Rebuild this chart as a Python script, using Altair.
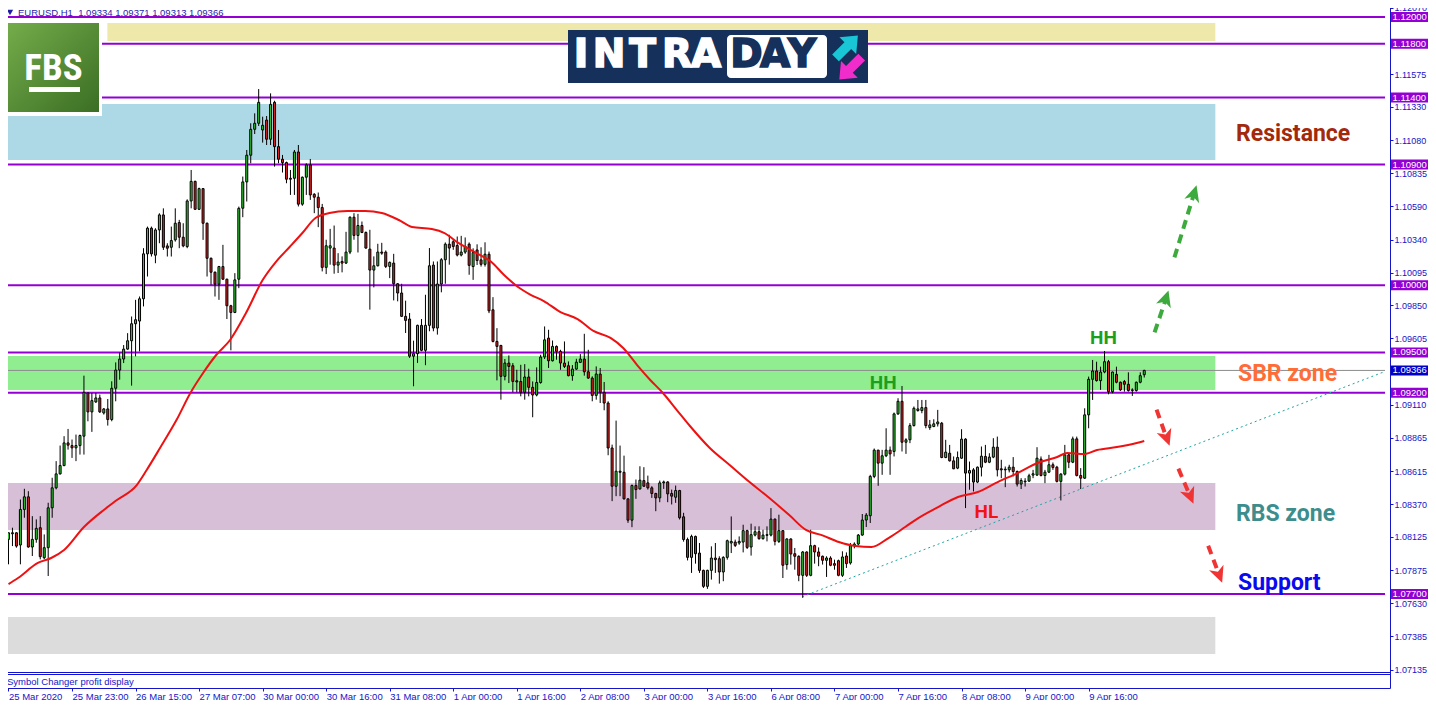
import json
import pandas as pd
import altair as alt

# ---------------- data ----------------
x_labels = ["25 Mar 2020", "25 Mar 23:00", "26 Mar 15:00", "27 Mar 07:00", "30 Mar 00:00",
            "30 Mar 16:00", "31 Mar 08:00", "1 Apr 00:00", "1 Apr 16:00", "2 Apr 08:00",
            "3 Apr 00:00", "3 Apr 16:00", "6 Apr 08:00", "7 Apr 00:00", "7 Apr 16:00",
            "8 Apr 08:00", "9 Apr 00:00", "9 Apr 16:00"]

opens = [
    1.08107, 1.08149, 1.08156, 1.08065, 1.08330, 1.08424, 1.08050, 1.08107, 1.08194, 1.07970,
    1.08045, 1.08342, 1.08491, 1.08595, 1.08657, 1.08826, 1.08806, 1.08789, 1.08806, 1.08876,
    1.09198, 1.09057, 1.09131, 1.09161, 1.09049, 1.09079, 1.09000, 1.09233, 1.09369, 1.09451,
    1.09525, 1.09587, 1.09714, 1.09734, 1.09900, 1.10235, 1.10426, 1.10225, 1.10413, 1.10525,
    1.10294, 1.10284, 1.10339, 1.10468, 1.10359, 1.10289, 1.10629, 1.10775, 1.10567, 1.10721,
    1.10463, 1.10202, 1.10098, 1.10009, 1.10140, 1.10046, 1.09848, 1.09798, 1.10046, 1.10575,
    1.10771, 1.10970, 1.11163, 1.11208, 1.11158, 1.11232, 1.11089, 1.11364, 1.11034, 1.10940,
    1.10915, 1.10798, 1.10798, 1.10994, 1.10605, 1.10806, 1.10898, 1.10679, 1.10657, 1.10580,
    1.10134, 1.10278, 1.10278, 1.10151, 1.10178, 1.10166, 1.10248, 1.10508, 1.10372, 1.10446,
    1.10394, 1.10270, 1.10114, 1.10146, 1.10248, 1.10248, 1.10141, 1.10166, 1.10012, 1.09943,
    1.09769, 1.09749, 1.09472, 1.09491, 1.09702, 1.09516, 1.09702, 1.10151, 1.09682, 1.10010,
    1.10191, 1.10307, 1.10325, 1.10297, 1.10226, 1.10248, 1.10307, 1.10140, 1.10264, 1.10190,
    1.10157, 1.10232, 1.09818, 1.09582, 1.09552, 1.09322, 1.09421, 1.09401, 1.09289, 1.09284,
    1.09203, 1.09317, 1.09240, 1.09183, 1.09276, 1.09466, 1.09607, 1.09438, 1.09545, 1.09508,
    1.09421, 1.09401, 1.09327, 1.09376, 1.09426, 1.09451, 1.09356, 1.09309, 1.09180, 1.09339,
    1.09203, 1.09123, 1.08788, 1.08503, 1.08615, 1.08607, 1.08409, 1.08250, 1.08508, 1.08483,
    1.08545, 1.08528, 1.08491, 1.08449, 1.08416, 1.08528, 1.08535, 1.08449, 1.08421, 1.08471,
    1.08275, 1.08106, 1.07973, 1.08129, 1.08005, 1.07876, 1.07757, 1.07876, 1.07968, 1.07963,
    1.07864, 1.07973, 1.08080, 1.08087, 1.08080, 1.08087, 1.08172, 1.08050, 1.08139, 1.08164,
    1.08112, 1.08137, 1.08139, 1.08258, 1.08092, 1.08172, 1.07919, 1.08110, 1.08000, 1.07981,
    1.07839, 1.08013, 1.07839, 1.08060, 1.08013, 1.07981, 1.07951, 1.07968, 1.07926, 1.07948,
    1.07839, 1.07983, 1.07931, 1.08060, 1.08072, 1.08139, 1.08251, 1.08283, 1.08576, 1.08772,
    1.08675, 1.08730, 1.08772, 1.08762, 1.09042, 1.09136, 1.08831, 1.08849, 1.08955, 1.09067,
    1.09067, 1.09089, 1.08940, 1.08948, 1.08968, 1.08973, 1.08717, 1.08749, 1.08692, 1.08638,
    1.08712, 1.08854, 1.08601, 1.08625, 1.08534, 1.08645, 1.08725, 1.08682, 1.08720, 1.08794,
    1.08633, 1.08630, 1.08625, 1.08645, 1.08613, 1.08519, 1.08536, 1.08541, 1.08586, 1.08586,
    1.08705, 1.08583, 1.08608, 1.08663, 1.08645, 1.08539, 1.08593, 1.08737, 1.08682, 1.08856,
    1.08583, 1.08563, 1.09035, 1.09300, 1.09362, 1.09290, 1.09354, 1.09431, 1.09208, 1.09337,
    1.09278, 1.09283, 1.09263, 1.09216, 1.09216, 1.09278, 1.09334]

highs = [
    1.08156, 1.08194, 1.08160, 1.08404, 1.08484, 1.08466, 1.08280, 1.08256, 1.08280, 1.08144,
    1.08380, 1.08566, 1.08690, 1.08806, 1.08876, 1.08930, 1.08851, 1.08888, 1.08888, 1.09327,
    1.09203, 1.09198, 1.09198, 1.09186, 1.09086, 1.09153, 1.09285, 1.09426, 1.09501, 1.09555,
    1.09644, 1.09768, 1.09892, 1.09917, 1.10277, 1.10438, 1.10438, 1.10426, 1.10537, 1.10574,
    1.10314, 1.10438, 1.10574, 1.10488, 1.10463, 1.10641, 1.10860, 1.10780, 1.10728, 1.10725,
    1.10468, 1.10207, 1.10103, 1.10145, 1.10302, 1.10050, 1.09855, 1.10091, 1.10587, 1.10811,
    1.11009, 1.11208, 1.11282, 1.11463, 1.11257, 1.11262, 1.11431, 1.11376, 1.11158, 1.10972,
    1.10922, 1.10860, 1.11009, 1.11046, 1.10811, 1.10910, 1.10942, 1.10687, 1.10692, 1.10607,
    1.10340, 1.10421, 1.10446, 1.10240, 1.10216, 1.10399, 1.10513, 1.10538, 1.10533, 1.10476,
    1.10402, 1.10414, 1.10216, 1.10310, 1.10317, 1.10260, 1.10178, 1.10235, 1.10017, 1.10012,
    1.09886, 1.09794, 1.09588, 1.09707, 1.09749, 1.09930, 1.10278, 1.10178, 1.10178, 1.10203,
    1.10320, 1.10377, 1.10340, 1.10364, 1.10369, 1.10357, 1.10320, 1.10276, 1.10306, 1.10284,
    1.10321, 1.10252, 1.09912, 1.09681, 1.09557, 1.09451, 1.09478, 1.09421, 1.09371, 1.09408,
    1.09413, 1.09379, 1.09284, 1.09389, 1.09483, 1.09694, 1.09669, 1.09589, 1.09552, 1.09520,
    1.09582, 1.09433, 1.09406, 1.09453, 1.09488, 1.09639, 1.09520, 1.09322, 1.09396, 1.09384,
    1.09280, 1.09136, 1.08813, 1.08992, 1.08806, 1.08731, 1.08412, 1.08516, 1.08553, 1.08652,
    1.08645, 1.08582, 1.08503, 1.08454, 1.08545, 1.08545, 1.08540, 1.08478, 1.08508, 1.08476,
    1.08305, 1.08120, 1.08142, 1.08135, 1.08080, 1.07881, 1.07881, 1.08055, 1.08080, 1.07981,
    1.07981, 1.08105, 1.08278, 1.08105, 1.08129, 1.08216, 1.08179, 1.08224, 1.08204, 1.08204,
    1.08179, 1.08204, 1.08340, 1.08262, 1.08291, 1.08176, 1.08115, 1.08115, 1.08043, 1.07988,
    1.08020, 1.08018, 1.08179, 1.08067, 1.08047, 1.07986, 1.07981, 1.07981, 1.07956, 1.07956,
    1.08018, 1.08010, 1.08080, 1.08085, 1.08147, 1.08296, 1.08303, 1.08588, 1.08784, 1.08774,
    1.08774, 1.08935, 1.08799, 1.09052, 1.09159, 1.09250, 1.08861, 1.08973, 1.09097, 1.09146,
    1.09146, 1.09146, 1.08997, 1.09002, 1.09072, 1.08982, 1.08849, 1.08811, 1.08725, 1.08762,
    1.08928, 1.08861, 1.08687, 1.08638, 1.08650, 1.08799, 1.08811, 1.08749, 1.08861, 1.08873,
    1.08700, 1.08650, 1.08663, 1.08720, 1.08620, 1.08563, 1.08563, 1.08596, 1.08625, 1.08794,
    1.08725, 1.08625, 1.08737, 1.08680, 1.08655, 1.08601, 1.08811, 1.08744, 1.08873, 1.08873,
    1.08638, 1.09084, 1.09320, 1.09444, 1.09431, 1.09394, 1.09511, 1.09444, 1.09357, 1.09394,
    1.09283, 1.09295, 1.09352, 1.09233, 1.09283, 1.09352, 1.09371]

lows = [
    1.07921, 1.08057, 1.08045, 1.07921, 1.08268, 1.08045, 1.07983, 1.08082, 1.07958, 1.07958,
    1.07834, 1.08268, 1.08480, 1.08590, 1.08652, 1.08776, 1.08714, 1.08690, 1.08739, 1.08739,
    1.08987, 1.08908, 1.09124, 1.09049, 1.09037, 1.08955, 1.08987, 1.09136, 1.09297, 1.09421,
    1.09520, 1.09253, 1.09471, 1.09508, 1.09843, 1.10066, 1.10215, 1.10165, 1.10314, 1.10264,
    1.10215, 1.10215, 1.10326, 1.10277, 1.10284, 1.10277, 1.10574, 1.10562, 1.10562, 1.10339,
    1.10066, 1.10004, 1.09917, 1.09892, 1.10041, 1.09749, 1.09516, 1.09793, 1.09979, 1.10508,
    1.10625, 1.10910, 1.11128, 1.11188, 1.11064, 1.11046, 1.11046, 1.10885, 1.10910, 1.10841,
    1.10761, 1.10674, 1.10674, 1.10588, 1.10593, 1.10674, 1.10637, 1.10538, 1.10434, 1.10104,
    1.10084, 1.10154, 1.10087, 1.10092, 1.10097, 1.10159, 1.10233, 1.10340, 1.10245, 1.10389,
    1.10273, 1.09819, 1.09985, 1.10141, 1.10228, 1.10129, 1.10054, 1.09888, 1.09881, 1.09764,
    1.09645, 1.09459, 1.09248, 1.09422, 1.09509, 1.09405, 1.09658, 1.09658, 1.09633, 1.09948,
    1.10012, 1.10154, 1.10265, 1.10216, 1.10216, 1.10235, 1.10079, 1.10041, 1.10152, 1.10140,
    1.10140, 1.09793, 1.09575, 1.09292, 1.09148, 1.09292, 1.09272, 1.09203, 1.09203, 1.09173,
    1.09148, 1.09173, 1.09017, 1.09173, 1.09267, 1.09451, 1.09384, 1.09433, 1.09446, 1.09371,
    1.09384, 1.09322, 1.09289, 1.09371, 1.09421, 1.09327, 1.09304, 1.09136, 1.09148, 1.09123,
    1.09069, 1.08734, 1.08392, 1.08429, 1.08429, 1.08404, 1.08230, 1.08198, 1.08409, 1.08478,
    1.08498, 1.08478, 1.08416, 1.08317, 1.08384, 1.08483, 1.08384, 1.08367, 1.08379, 1.08255,
    1.08090, 1.07950, 1.07857, 1.07926, 1.07857, 1.07745, 1.07738, 1.07807, 1.07857, 1.07777,
    1.07795, 1.07956, 1.08005, 1.08050, 1.08067, 1.08010, 1.08035, 1.07986, 1.08129, 1.08105,
    1.08105, 1.08092, 1.08129, 1.08062, 1.08080, 1.07819, 1.07881, 1.07919, 1.07881, 1.07795,
    1.07671, 1.07827, 1.07832, 1.07926, 1.07907, 1.07919, 1.07827, 1.07907, 1.07881, 1.07832,
    1.07827, 1.07894, 1.07919, 1.08040, 1.08062, 1.08134, 1.08199, 1.08229, 1.08563, 1.08506,
    1.08588, 1.08720, 1.08588, 1.08725, 1.09035, 1.08762, 1.08744, 1.08824, 1.08948, 1.09059,
    1.09047, 1.08935, 1.08923, 1.08943, 1.08948, 1.08712, 1.08712, 1.08687, 1.08630, 1.08630,
    1.08707, 1.08340, 1.08477, 1.08464, 1.08526, 1.08576, 1.08675, 1.08675, 1.08712, 1.08576,
    1.08563, 1.08496, 1.08606, 1.08576, 1.08501, 1.08482, 1.08501, 1.08536, 1.08563, 1.08581,
    1.08576, 1.08526, 1.08601, 1.08625, 1.08531, 1.08397, 1.08583, 1.08638, 1.08675, 1.08576,
    1.08482, 1.08558, 1.08935, 1.09146, 1.09283, 1.09221, 1.09345, 1.09188, 1.09196, 1.09270,
    1.09213, 1.09208, 1.09208, 1.09176, 1.09208, 1.09270, 1.09313]

closes = [
    1.08156, 1.08156, 1.08057, 1.08330, 1.08424, 1.08050, 1.08107, 1.08189, 1.07978, 1.08045,
    1.08342, 1.08491, 1.08595, 1.08657, 1.08826, 1.08809, 1.08789, 1.08806, 1.08881, 1.09203,
    1.09057, 1.09141, 1.09161, 1.09057, 1.09079, 1.09000, 1.09233, 1.09369, 1.09451, 1.09525,
    1.09587, 1.09714, 1.09744, 1.09900, 1.10235, 1.10426, 1.10235, 1.10413, 1.10525, 1.10284,
    1.10277, 1.10334, 1.10463, 1.10359, 1.10294, 1.10629, 1.10775, 1.10567, 1.10721, 1.10463,
    1.10202, 1.10098, 1.10009, 1.10140, 1.10046, 1.09848, 1.09798, 1.10041, 1.10574, 1.10771,
    1.10970, 1.11163, 1.11208, 1.11364, 1.11193, 1.11089, 1.11349, 1.11034, 1.10940, 1.10915,
    1.10791, 1.10791, 1.10994, 1.10605, 1.10806, 1.10898, 1.10674, 1.10657, 1.10580, 1.10134,
    1.10295, 1.10295, 1.10151, 1.10174, 1.10166, 1.10248, 1.10508, 1.10372, 1.10446, 1.10394,
    1.10278, 1.10114, 1.10146, 1.10248, 1.10240, 1.10141, 1.10171, 1.10012, 1.09943, 1.09769,
    1.09739, 1.09472, 1.09491, 1.09702, 1.09516, 1.09702, 1.10146, 1.09682, 1.10010, 1.10191,
    1.10307, 1.10278, 1.10290, 1.10226, 1.10248, 1.10290, 1.10149, 1.10244, 1.10185, 1.10157,
    1.10232, 1.09810, 1.09582, 1.09545, 1.09322, 1.09421, 1.09396, 1.09284, 1.09280, 1.09203,
    1.09317, 1.09240, 1.09183, 1.09276, 1.09466, 1.09594, 1.09438, 1.09545, 1.09508, 1.09421,
    1.09396, 1.09327, 1.09376, 1.09428, 1.09451, 1.09356, 1.09309, 1.09180, 1.09339, 1.09203,
    1.09123, 1.08788, 1.08503, 1.08615, 1.08607, 1.08409, 1.08250, 1.08508, 1.08478, 1.08548,
    1.08503, 1.08491, 1.08449, 1.08416, 1.08528, 1.08535, 1.08446, 1.08429, 1.08471, 1.08268,
    1.08106, 1.07973, 1.08129, 1.08000, 1.07876, 1.07757, 1.07876, 1.07968, 1.07956, 1.07864,
    1.07973, 1.08097, 1.08092, 1.08062, 1.08092, 1.08172, 1.08047, 1.08142, 1.08164, 1.08112,
    1.08139, 1.08142, 1.08258, 1.08092, 1.08172, 1.07914, 1.08110, 1.07998, 1.07981, 1.07839,
    1.08013, 1.07839, 1.08060, 1.08013, 1.07981, 1.07951, 1.07968, 1.07914, 1.07914, 1.07839,
    1.07976, 1.07926, 1.08060, 1.08072, 1.08139, 1.08251, 1.08288, 1.08576, 1.08772, 1.08675,
    1.08730, 1.08772, 1.08744, 1.09042, 1.09136, 1.08831, 1.08849, 1.08955, 1.09084, 1.09079,
    1.09089, 1.08955, 1.08960, 1.08968, 1.08982, 1.08717, 1.08757, 1.08692, 1.08633, 1.08717,
    1.08854, 1.08601, 1.08620, 1.08534, 1.08645, 1.08727, 1.08682, 1.08720, 1.08794, 1.08625,
    1.08625, 1.08625, 1.08645, 1.08613, 1.08519, 1.08546, 1.08541, 1.08581, 1.08596, 1.08712,
    1.08583, 1.08608, 1.08663, 1.08643, 1.08539, 1.08593, 1.08737, 1.08682, 1.08856, 1.08583,
    1.08563, 1.09035, 1.09300, 1.09362, 1.09290, 1.09354, 1.09431, 1.09208, 1.09354, 1.09278,
    1.09221, 1.09263, 1.09216, 1.09221, 1.09278, 1.09327, 1.09366]

# moving average (bar index, price)
ma_idx = [0, 2.4, 7.4, 10.75, 14, 19, 24, 27.3, 32.3, 34.8, 38.3, 42.3, 45.8, 49, 52.3,
          55.8, 59.8, 64, 67.3, 70.8, 74, 77.3, 80.8, 85.3, 89.8, 94, 98.3, 101.6, 106.6,
          109.8, 113.3, 117.3, 121.6, 124.8, 128.3, 131.6, 134.8, 139, 143.3, 147.3, 151.6,
          154.8, 158.3, 161.6, 164.8, 168.3, 171.6, 176.6, 181.6, 186.6, 191.6, 196.6, 200.8,
          204.8, 209.1, 213.3, 217.3, 221.6, 225.8, 229.1, 234.1, 239.1, 244.1, 249.1, 254.1,
          259.1, 264.1, 266.6, 270.8, 274.1, 279.1, 284.1, 286]
ma_val = [1.07774, 1.07819, 1.07931, 1.07968, 1.08028, 1.08199, 1.08326, 1.08400, 1.08512,
          1.08624, 1.08795, 1.08996, 1.09198, 1.09347, 1.09481, 1.09593, 1.09794, 1.10040,
          1.10174, 1.10286, 1.10390, 1.10502, 1.10539, 1.10554, 1.10554, 1.10539, 1.10487,
          1.10435, 1.10420, 1.10390, 1.10316, 1.10249, 1.10174, 1.10077, 1.09988, 1.09928,
          1.09883, 1.09801, 1.09749, 1.09660, 1.09608, 1.09533, 1.09406, 1.09295, 1.09198,
          1.09071, 1.08952, 1.08788, 1.08661, 1.08534, 1.08415, 1.08288, 1.08177, 1.08139,
          1.08087, 1.08057, 1.08050, 1.08117, 1.08199, 1.08266, 1.08348, 1.08423, 1.08460,
          1.08534, 1.08601, 1.08676, 1.08721, 1.08751, 1.08743, 1.08773, 1.08795, 1.08825,
          1.08840]

y_ticks = [1.12070, 1.11575, 1.11330, 1.11080, 1.10835, 1.10590, 1.10340, 1.10095, 1.09850,
           1.09605, 1.09110, 1.08865, 1.08615, 1.08370, 1.08125, 1.07875, 1.07630, 1.07385,
           1.07135]

level_prices = [1.12000, 1.11800, 1.11400, 1.10900, 1.10000, 1.09500, 1.09200, 1.07700]
last_price = 1.09366

zone_x0 = [24.9, -0.375, -0.375, -0.375, -0.375]
zone_x1 = [303.9, 303.9, 303.9, 303.9, 303.9]
zone_lo = [1.11821, 1.10934, 1.09220, 1.08177, 1.07252]
zone_hi = [1.11955, 1.11352, 1.09473, 1.08527, 1.07528]
zone_col = ["#EEE8AA", "#ADD8E6", "#90EE90", "#D8BFD8", "#DCDCDC"]

trend_idx = [199.9, 346.6]
trend_price = [1.07680, 1.09358]

zone_text = ["Resistance", "SBR zone", "RBS zone", "Support"]
zone_text_idx = [309.1, 309.6, 309.1, 309.6]
zone_text_price = [1.11125, 1.09343, 1.08298, 1.07784]
zone_text_col = ["#A3290C", "#FF6C37", "#3D8D8D", "#0A0AEE"]

swing_text = ["HH", "HH", "HL"]
swing_idx = [220.25, 275.75, 246.25]
swing_price = [1.09276, 1.09604, 1.08314]
swing_col = ["#1E9E1E", "#1E9E1E", "#F01414"]

arr_x0 = [288.6, 293.6, 289.1, 294.6, 302.1]
arr_y0 = [1.09649, 1.10208, 1.09074, 1.08634, 1.08060]
arr_x1 = [291.4, 298.4, 291.5, 297.4, 304.75]
arr_y1 = [1.09895, 1.10670, 1.08873, 1.08440, 1.07851]
head_x = [291.4, 298.5, 291.6, 297.5, 304.8]
head_y = [1.09898, 1.10681, 1.08869, 1.08435, 1.07847]
head_ang = [18, 17, 160, 157, 159]
arr_col = ["#3DAA3D", "#3DAA3D", "#F03434", "#F03434", "#F03434"]

# ---------------- frames ----------------
W, H = 1388, 686
XDOM = [-0.375, 346.625]
YDOM = [1.069993, 1.121118]
PX = (YDOM[1] - YDOM[0]) / H          # price per pixel
xsc = alt.Scale(domain=XDOM, nice=False, zero=False)
ysc = alt.Scale(domain=YDOM, nice=False, zero=False)

FONT = "Liberation Sans"
AXBLUE = "#1515C8"
GREEN = "#33CC33"
RED = "#DD2222"
NAVY = "#15305A"

candles = pd.DataFrame({"i": list(range(len(closes))), "open": opens, "high": highs,
                        "low": lows, "close": closes})
candles["dir"] = ["up" if c >= o else "down" for o, c in zip(opens, closes)]

ma_df = pd.DataFrame({"i": ma_idx, "ma": ma_val})
zones = pd.DataFrame({"x0": zone_x0, "x1": zone_x1, "lo": zone_lo, "hi": zone_hi, "col": zone_col})
levels = pd.DataFrame({"p": level_prices, "x0": XDOM[0], "x1": XDOM[1],
                       "label": [f"{p:.5f}" for p in level_prices]})
levels["lo"] = levels["p"] - 5 * PX
levels["hi"] = levels["p"] + 5 * PX
lastdf = pd.DataFrame({"p": [last_price], "x0": XDOM[0], "x1": XDOM[1],
                       "label": [f"{last_price:.5f}"]})
lastdf["lo"] = lastdf["p"] - 5 * PX
lastdf["hi"] = lastdf["p"] + 5 * PX
trend = pd.DataFrame({"x0": [trend_idx[0]], "x1": [trend_idx[1]],
                      "y0": [trend_price[0]], "y1": [trend_price[1]]})
ztext = pd.DataFrame({"t": zone_text, "i": zone_text_idx, "p": zone_text_price, "col": zone_text_col})
stext = pd.DataFrame({"t": swing_text, "i": swing_idx, "p": swing_price, "col": swing_col})
arrows = pd.DataFrame({"x0": arr_x0, "y0": arr_y0, "x1": arr_x1, "y1": arr_y1, "col": arr_col})
heads = pd.DataFrame({"x": head_x, "y": head_y, "ang": head_ang, "col": arr_col})
one = pd.DataFrame({"k": [0]})

x_axis = alt.Axis(values=[16 * k for k in range(len(x_labels))],
                  labelExpr=json.dumps(x_labels) + "[round(datum.value / 16)]",
                  labelAlign="left", labelBaseline="top", labelPadding=0,
                  labelFont=FONT, labelFontSize=9.5, labelColor=AXBLUE,
                  tickColor=AXBLUE, tickSize=3, domainColor=AXBLUE,
                  grid=False, labelOverlap=False, labelFlush=False)
y_axis = alt.Axis(orient="right", values=y_ticks, format=".5f",
                  labelFont=FONT, labelFontSize=9, labelColor=AXBLUE, labelPadding=1,
                  tickColor=AXBLUE, tickSize=3, domainColor=AXBLUE,
                  grid=False, labelOverlap=False, labelFlush=False)


def X(f):
    return alt.X(f, type="quantitative", scale=xsc, axis=x_axis, title=None)


def Y(f):
    return alt.Y(f, type="quantitative", scale=ysc, axis=y_axis, title=None)


layers = []

# zones
layers.append(alt.Chart(zones).mark_rect().encode(
    x=X("x0:Q"), x2="x1:Q", y=Y("lo:Q"), y2="hi:Q", color=alt.Color("col:N", scale=None)))
# level lines
layers.append(alt.Chart(levels).mark_rule(color="#9400D3", strokeWidth=2).encode(
    x=X("x0:Q"), x2="x1:Q", y=Y("p:Q")))
# last price line
layers.append(alt.Chart(lastdf).mark_rule(color="#8C8C8C", strokeWidth=1).encode(
    x=X("x0:Q"), x2="x1:Q", y=Y("p:Q")))
# trend line
layers.append(alt.Chart(trend).mark_rule(color="#22A3A3", strokeWidth=1, strokeDash=[2, 3]).encode(
    x=X("x0:Q"), x2="x1:Q", y=Y("y0:Q"), y2="y1:Q"))
# wicks
layers.append(alt.Chart(candles).mark_rule(color="black", strokeWidth=1).encode(
    x=X("i:Q"), y=Y("low:Q"), y2="high:Q"))
# bodies
layers.append(alt.Chart(candles).mark_bar(size=2, stroke="black", strokeWidth=1).encode(
    x=X("i:Q"), y=Y("open:Q"), y2="close:Q",
    color=alt.Color("dir:N", scale=alt.Scale(domain=["up", "down"], range=[GREEN, RED]),
                    legend=None)))
# moving average
layers.append(alt.Chart(ma_df).mark_line(color="#EE1111", strokeWidth=2, interpolate="monotone").encode(
    x=X("i:Q"), y=Y("ma:Q")))
# zone labels
layers.append(alt.Chart(ztext).mark_text(align="left", baseline="middle", font="Roboto",
                                         fontWeight="bold", fontSize=23).encode(
    x=X("i:Q"), y=Y("p:Q"), text="t:N", color=alt.Color("col:N", scale=None)))
# swing labels
layers.append(alt.Chart(stext).mark_text(align="center", baseline="middle", font="Roboto",
                                         fontWeight="bold", fontSize=19).encode(
    x=X("i:Q"), y=Y("p:Q"), text="t:N", color=alt.Color("col:N", scale=None)))
# dashed arrows
layers.append(alt.Chart(arrows).mark_rule(strokeWidth=4, strokeDash=[9, 6], strokeCap="butt").encode(
    x=X("x0:Q"), x2="x1:Q", y=Y("y0:Q"), y2="y1:Q", color=alt.Color("col:N", scale=None)))
layers.append(alt.Chart(heads).mark_point(shape="M0,-1L0.85,0.8L0,0.3L-0.85,0.8Z", filled=True,
                                          size=330, opacity=1).encode(
    x=X("x:Q"), y=Y("y:Q"), angle=alt.Angle("ang:Q", scale=None),
    color=alt.Color("col:N", scale=None)))
# price boxes on axis
layers.append(alt.Chart(levels).mark_rect(color="#9400D3").encode(
    x=alt.value(W + 1), x2=alt.value(W + 38), y=Y("lo:Q"), y2="hi:Q"))
layers.append(alt.Chart(levels).mark_text(color="white", font=FONT, fontSize=9.5,
                                          align="left", baseline="middle").encode(
    x=alt.value(W + 2.5), y=Y("p:Q"), text="label:N"))
layers.append(alt.Chart(lastdf).mark_rect(color="#0000C8").encode(
    x=alt.value(W + 1), x2=alt.value(W + 38), y=Y("lo:Q"), y2="hi:Q"))
layers.append(alt.Chart(lastdf).mark_text(color="white", font=FONT, fontSize=9.5,
                                          align="left", baseline="middle").encode(
    x=alt.value(W + 2.5), y=Y("p:Q"), text="label:N"))

# FBS logo
layers.append(alt.Chart(one).mark_rect(color="white").encode(
    x=alt.value(1), x2=alt.value(100), y=alt.value(16), y2=alt.value(114)))
layers.append(alt.Chart(one).mark_rect(fill=alt.LinearGradient(
    gradient="linear", x1=0, y1=0, x2=1, y2=1,
    stops=[alt.GradientStop(offset=0, color="#74AC4A"), alt.GradientStop(offset=1, color="#3B6E24")])).encode(
    x=alt.value(6), x2=alt.value(97), y=alt.value(21), y2=alt.value(110)))
layers.append(alt.Chart(one).mark_text(text="FBS", font="Roboto Condensed, Liberation Sans Narrow, Roboto",
                                       fontWeight="bold", fontSize=37, color="white",
                                       align="center", baseline="alphabetic").encode(
    x=alt.value(51.5), y=alt.value(78)))
layers.append(alt.Chart(one).mark_rect(color="white").encode(
    x=alt.value(27), x2=alt.value(78), y=alt.value(85), y2=alt.value(90)))

# INTRADAY logo
layers.append(alt.Chart(one).mark_rect(color=NAVY).encode(
    x=alt.value(566), x2=alt.value(866), y=alt.value(28), y2=alt.value(81)))
layers.append(alt.Chart(one).mark_rect(color="white", cornerRadius=4).encode(
    x=alt.value(725), x2=alt.value(825), y=alt.value(33), y2=alt.value(76)))
logo_letters = pd.DataFrame({"t": ["I", "N", "T", "R", "A", "D", "A", "Y"],
                             "x": [579, 607, 640.5, 675, 704, 744.5, 773, 800],
                             "c": ["white"] * 5 + [NAVY] * 3})
layers.append(alt.Chart(logo_letters).mark_text(font="DejaVu Sans", fontWeight="bold", fontSize=39,
                                                strokeWidth=1.6, align="center",
                                                baseline="alphabetic").encode(
    x=alt.X("x:Q", scale=None), y=alt.value(64.7), text="t:N",
    color=alt.Color("c:N", scale=None), stroke=alt.Stroke("c:N", scale=None)))
logo_arrows = pd.DataFrame({"x": [844.7, 848.5], "y": [44.7, 66.3], "ang": [45, 225],
                            "c": ["#19C6D6", "#F02DCB"]})
layers.append(alt.Chart(logo_arrows).mark_point(
    shape="M0,-1L0.75,-0.1L0.3,-0.1L0.3,1L-0.3,1L-0.3,-0.1L-0.75,-0.1Z",
    filled=True, size=1000, opacity=1).encode(
    x=alt.X("x:Q", scale=None), y=alt.Y("y:Q", scale=None),
    angle=alt.Angle("ang:Q", scale=None), color=alt.Color("c:N", scale=None)))

# header
layers.append(alt.Chart(one).mark_point(shape="triangle-down", filled=True, size=40, opacity=1,
                                        color="#1E1EAA").encode(x=alt.value(8), y=alt.value(10.5)))
layers.append(alt.Chart(one).mark_text(text="EURUSD,H1\u00a0\u00a01.09334 1.09371 1.09313 1.09366",
                                       font=FONT, fontSize=9.5, color="#1E1EAA",
                                       align="left", baseline="middle").encode(
    x=alt.value(16), y=alt.value(11)))

# window frames and sub-panel
layers.append(alt.Chart(one).mark_rule(color="#1010D0", strokeWidth=1).encode(
    x=alt.value(0), x2=alt.value(W), y=alt.value(670.5)))
layers.append(alt.Chart(one).mark_rule(color="#1010D0", strokeWidth=1).encode(
    x=alt.value(0), x2=alt.value(W), y=alt.value(672.5)))
layers.append(alt.Chart(one).mark_text(text="Symbol Changer profit display", font=FONT, fontSize=9.5,
                                       color="#1515C8", align="left", baseline="middle").encode(
    x=alt.value(5), y=alt.value(679.5)))

chart = alt.layer(*layers).properties(
    width=W, height=H,
    padding={"left": -6, "top": -6, "right": 38, "bottom": 12},
    autosize=alt.AutoSizeParams(type="none"),
).configure_view(stroke=None)

chart.save("out.html", embed_options={"renderer": "svg", "actions": False})
